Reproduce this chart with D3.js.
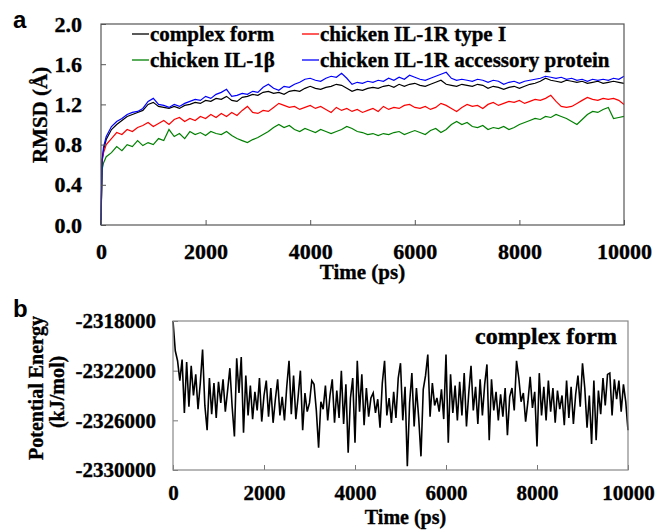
<!DOCTYPE html>
<html>
<head>
<meta charset="utf-8">
<script src="https://cdn.jsdelivr.net/npm/d3@7"></script>
<style>
  body { margin: 0; background: #fff; }
  svg text { font-family: "Liberation Serif", "Times New Roman", serif; font-weight: bold; fill: #000; stroke: #000; stroke-width: 0.35px; }
  .panelLetter { font-family: "Liberation Sans", Arial, sans-serif; stroke: none; }
</style>
</head>
<body>
<svg class="svgMain" width="655" height="532"></svg>
<script>
// RMSD time points (ps) and the four RMSD traces (Å).
const rmsdTime = [0, 20, 50].concat(d3.range(100, 10001, 100));

const complexRmsd = [0, 0.62, 0.75,
  0.85, 0.95, 1.00, 1.04, 1.08, 1.10, 1.12, 1.14, 1.20, 1.22,
  1.18, 1.17, 1.16, 1.18, 1.16, 1.19, 1.20, 1.22, 1.21, 1.24,
  1.23, 1.26, 1.25, 1.28, 1.24, 1.23, 1.27, 1.28, 1.30, 1.29,
  1.32, 1.33, 1.31, 1.32, 1.30, 1.33, 1.34, 1.33, 1.36, 1.38,
  1.36, 1.35, 1.37, 1.38, 1.40, 1.39, 1.36, 1.33, 1.35, 1.34,
  1.36, 1.37, 1.36, 1.38, 1.39, 1.37, 1.40, 1.38, 1.40, 1.41,
  1.39, 1.38, 1.40, 1.42, 1.44, 1.40, 1.39, 1.38, 1.40, 1.39,
  1.38, 1.40, 1.39, 1.36, 1.38, 1.37, 1.35, 1.37, 1.38, 1.36,
  1.38, 1.40, 1.41, 1.43, 1.46, 1.44, 1.43, 1.42, 1.44, 1.43,
  1.42, 1.43, 1.41, 1.42, 1.43, 1.41, 1.42, 1.43, 1.42, 1.41];

const typeIRmsd = [0, 0.65, 0.72,
  0.80, 0.86, 0.92, 0.90, 0.95, 0.93, 0.97, 0.99, 1.02, 0.98,
  1.01, 1.04, 1.00, 1.05, 1.07, 1.03, 1.06, 1.04, 1.08, 1.06,
  1.10, 1.07, 1.11, 1.08, 1.12, 1.09, 1.14, 1.18, 1.12, 1.11,
  1.14, 1.13, 1.17, 1.21, 1.19, 1.17, 1.18, 1.15, 1.17, 1.19,
  1.16, 1.18, 1.15, 1.12, 1.17, 1.14, 1.16, 1.13, 1.15, 1.12,
  1.14, 1.16, 1.13, 1.18, 1.15, 1.17, 1.16, 1.19, 1.20, 1.17,
  1.16, 1.18, 1.15, 1.17, 1.21, 1.19, 1.16, 1.13, 1.17, 1.20,
  1.18, 1.19, 1.16, 1.20, 1.22, 1.19, 1.21, 1.23, 1.22, 1.24,
  1.21, 1.23, 1.25, 1.24, 1.26, 1.29, 1.23, 1.18, 1.17, 1.18,
  1.21, 1.24, 1.27, 1.25, 1.24, 1.26, 1.25, 1.26, 1.24, 1.20];

const il1bRmsd = [0, 0.55, 0.62,
  0.68, 0.72, 0.78, 0.74, 0.80, 0.78, 0.84, 0.79, 0.82, 0.80,
  0.86, 0.84, 0.95, 0.88, 0.91, 0.86, 0.93, 0.90, 0.92, 0.89,
  0.93, 0.91, 0.90, 0.93, 0.89, 0.86, 0.84, 0.82, 0.85, 0.87,
  0.90, 0.93, 0.97, 1.00, 0.97, 0.99, 0.95, 0.93, 0.96, 0.94,
  0.92, 0.95, 0.93, 0.91, 0.93, 0.95, 0.98, 0.96, 0.93, 0.92,
  0.90, 0.91, 0.89, 0.91, 0.90, 0.92, 0.93, 0.90, 0.92, 0.94,
  0.92, 0.90, 0.94, 0.96, 0.92, 0.95, 1.00, 1.03, 1.00, 1.02,
  0.98, 0.97, 0.99, 0.95, 0.97, 0.96, 0.98, 0.95, 0.97, 1.00,
  1.02, 1.04, 1.06, 1.05, 1.08, 1.07, 1.10, 1.08, 1.06, 1.03,
  1.00, 1.05, 1.10, 1.13, 1.12, 1.15, 1.17, 1.06, 1.07, 1.08];

const accessoryRmsd = [0, 0.65, 0.78,
  0.88, 0.98, 1.03, 1.06, 1.10, 1.12, 1.13, 1.16, 1.23, 1.26,
  1.20, 1.19, 1.17, 1.20, 1.18, 1.21, 1.23, 1.25, 1.24, 1.28,
  1.26, 1.30, 1.32, 1.35, 1.28, 1.29, 1.31, 1.30, 1.33, 1.32,
  1.37, 1.40, 1.36, 1.34, 1.38, 1.37, 1.40, 1.42, 1.45, 1.46,
  1.44, 1.43, 1.46, 1.48, 1.47, 1.51, 1.46, 1.40, 1.42, 1.41,
  1.43, 1.42, 1.44, 1.43, 1.46, 1.44, 1.47, 1.45, 1.49, 1.47,
  1.45, 1.44, 1.46, 1.48, 1.50, 1.52, 1.46, 1.44, 1.45, 1.44,
  1.43, 1.45, 1.44, 1.42, 1.44, 1.43, 1.40, 1.42, 1.43, 1.41,
  1.43, 1.44, 1.45, 1.46, 1.48, 1.47, 1.46, 1.47, 1.45, 1.46,
  1.44, 1.45, 1.43, 1.45, 1.44, 1.45, 1.44, 1.46, 1.45, 1.48];

const rmsdSeries = [
  { name: "complex form", color: "#000000", values: complexRmsd },
  { name: "chicken IL-1R type I", color: "#ff0000", values: typeIRmsd },
  { name: "chicken IL-1\u03b2", color: "#008000", values: il1bRmsd },
  { name: "chicken IL-1R accessory protein", color: "#0000ff", values: accessoryRmsd }
];
const rmsdTicks = [0, 0.4, 0.8, 1.2, 1.6, 2.0];
const timeTicks = [0, 2000, 4000, 6000, 8000, 10000];

// Potential energy of the complex (kJ/mol), one value every 50 ps.
const energyTime = d3.range(0, 10001, 50);
const energyValues = [
  -2318000, -2320400, -2321200, -2322800, -2321100, -2325400, -2321300, -2324900, -2321600, -2324000,
  -2322300, -2325100, -2323000, -2320300, -2324800, -2326800, -2322600, -2325500, -2323000, -2325800,
  -2322900, -2324600, -2322700, -2325300, -2323600, -2321800, -2324900, -2327300, -2321000, -2323800,
  -2320900, -2327000, -2322400, -2325600, -2323200, -2325900, -2323700, -2325200, -2322600, -2326100,
  -2324000, -2322800, -2325700, -2323400, -2326200, -2324300, -2322700, -2325600, -2324100, -2326000,
  -2323300, -2321200, -2325500, -2322400, -2325900, -2324100, -2322000, -2326800, -2323800, -2325300,
  -2324600, -2322800, -2323100, -2325200, -2328200, -2324500, -2325100, -2323200, -2326000, -2324000,
  -2322700, -2326200, -2323600, -2325800, -2322000, -2326300, -2323100, -2328600, -2324200, -2322600,
  -2327800, -2321200, -2325300, -2322300, -2326400, -2323400, -2325700, -2324200, -2323800, -2325400,
  -2324300, -2326600, -2323000, -2321200, -2325600, -2324200, -2326200, -2323700, -2325800, -2322600,
  -2321400, -2326000, -2323300, -2329700, -2324600, -2322200, -2326500, -2323400, -2325800, -2328900,
  -2323500, -2322400, -2320700, -2325700, -2323000, -2324800, -2324200, -2325300, -2323500, -2325900,
  -2320700, -2327800, -2322300, -2325400, -2323200, -2326000, -2322900, -2325600, -2322200, -2326500,
  -2323800, -2321600, -2325200, -2323300, -2326300, -2322700, -2325600, -2323100, -2321500, -2327600,
  -2322700, -2325200, -2323700, -2326000, -2323900, -2325700, -2323400, -2327200, -2324100, -2323400,
  -2325200, -2321200, -2322600, -2324500, -2323800, -2326100, -2324500, -2322500, -2325000, -2323700,
  -2328100, -2322200, -2325600, -2323300, -2326000, -2322800, -2325300, -2323400, -2326200, -2323600,
  -2325100, -2324000, -2326400, -2322800, -2325800, -2323300, -2326300, -2323900, -2322400, -2324900,
  -2321400, -2323400, -2326600, -2324000, -2327900, -2322800, -2327600, -2323600, -2325500, -2322600,
  -2324800, -2322300, -2322200, -2325600, -2322700, -2324300, -2322800, -2325300, -2323100, -2324500,
  -2326800];
const energyTicks = [-2330000, -2326000, -2322000, -2318000];

const svg = d3.select(".svgMain");

// ---------- Panel a: RMSD ----------
const ax = { left: 101, right: 624, top: 24, bottom: 225 };
const xA = d3.scaleLinear().domain([0, 10000]).range([ax.left, ax.right]);
const yA = d3.scaleLinear().domain([0, 2.0]).range([ax.bottom, ax.top]);

const lineA = d3.line()
  .x((d, i) => xA(rmsdTime[i]))
  .y(d => yA(d));

svg.append("g").selectAll("path")
  .data(rmsdSeries)
  .join("path")
  .attr("d", d => lineA(d.values))
  .attr("fill", "none")
  .attr("stroke", d => d.color)
  .attr("stroke-width", 1.2);

// Axes with ticks pointing inward.
const yAxisA = svg.append("g")
  .attr("transform", `translate(${ax.left},0)`)
  .call(d3.axisLeft(yA).tickValues(rmsdTicks).tickFormat(d3.format(".1f")).tickSize(-5).tickPadding(19));
const xAxisA = svg.append("g")
  .attr("transform", `translate(0,${ax.bottom})`)
  .call(d3.axisBottom(xA).tickValues(timeTicks).tickFormat(d3.format("d")).tickSize(-5).tickPadding(18));
[yAxisA, xAxisA].forEach(g => {
  g.select(".domain").remove();
  g.selectAll("line").attr("stroke", "#555");
  g.selectAll("text").attr("font-size", 22).attr("font-family", null).attr("fill", "#000");
});

svg.append("rect")
  .attr("x", ax.left).attr("y", ax.top)
  .attr("width", ax.right - ax.left).attr("height", ax.bottom - ax.top)
  .attr("fill", "none").attr("stroke", "#555").attr("stroke-width", 1.2);

svg.append("text")
  .attr("x", (ax.left + ax.right) / 2).attr("y", 279)
  .attr("text-anchor", "middle").attr("font-size", 21)
  .text("Time (ps)");
svg.append("text")
  .attr("transform", "translate(47,115) rotate(-90)")
  .attr("text-anchor", "middle").attr("font-size", 21)
  .text("RMSD (\u00c5)");
svg.append("text").attr("class", "panelLetter")
  .attr("x", 13).attr("y", 28).attr("font-size", 24)
  .text("a");

// Legend in two columns.
const legendCols = [132, 302];
const legendRows = [41, 67];
const legendPos = [[0, 0], [1, 0], [0, 1], [1, 1]];
const legend = svg.append("g").selectAll("g")
  .data(rmsdSeries)
  .join("g")
  .attr("transform", (d, i) => `translate(${legendCols[legendPos[i][0]]},${legendRows[legendPos[i][1]]})`);
legend.append("line")
  .attr("x1", 0).attr("x2", 17).attr("y1", -7).attr("y2", -7)
  .attr("stroke", d => d.color).attr("stroke-width", 1.3);
legend.append("text")
  .attr("x", 18).attr("y", 0).attr("font-size", 21)
  .text(d => d.name);

// ---------- Panel b: potential energy ----------
const bx = { left: 173, right: 628, top: 321, bottom: 470 };
const xB = d3.scaleLinear().domain([0, 10000]).range([bx.left, bx.right]);
const yB = d3.scaleLinear().domain([-2330000, -2318000]).range([bx.bottom, bx.top]);

svg.append("path")
  .datum(energyValues)
  .attr("d", d3.line().x((d, i) => xB(energyTime[i])).y(d => yB(d)))
  .attr("fill", "none")
  .attr("stroke", "#000")
  .attr("stroke-width", 1.6);

const yAxisB = svg.append("g")
  .attr("transform", `translate(${bx.left},0)`)
  .call(d3.axisLeft(yB).tickValues(energyTicks).tickFormat(d3.format("d")).tickSize(-5).tickPadding(17));
const xAxisB = svg.append("g")
  .attr("transform", `translate(0,${bx.bottom})`)
  .call(d3.axisBottom(xB).tickValues(timeTicks).tickFormat(d3.format("d")).tickSize(-5).tickPadding(15));
[yAxisB, xAxisB].forEach(g => {
  g.select(".domain").remove();
  g.selectAll("line").attr("stroke", "#777");
  g.selectAll("text").attr("font-size", 21).attr("font-family", null).attr("fill", "#000");
});
yAxisB.selectAll("text").text(d => "-" + Math.abs(d));

svg.append("rect")
  .attr("x", bx.left).attr("y", bx.top)
  .attr("width", bx.right - bx.left).attr("height", bx.bottom - bx.top)
  .attr("fill", "none").attr("stroke", "#888").attr("stroke-width", 1.2);

svg.append("text")
  .attr("x", 617).attr("y", 344)
  .attr("text-anchor", "end").attr("font-size", 24)
  .text("complex form");
svg.append("text")
  .attr("x", (bx.left + bx.right) / 2 + 5).attr("y", 524)
  .attr("text-anchor", "middle").attr("font-size", 20)
  .text("Time (ps)");
svg.append("text")
  .attr("transform", "translate(43,388) rotate(-90)")
  .attr("text-anchor", "middle").attr("font-size", 20)
  .text("Potential Energy");
svg.append("text")
  .attr("transform", "translate(64,392) rotate(-90)")
  .attr("text-anchor", "middle").attr("font-size", 20)
  .text("(kJ/mol)");
svg.append("text").attr("class", "panelLetter")
  .attr("x", 13).attr("y", 317).attr("font-size", 24)
  .text("b");
</script>
</body>
</html>
